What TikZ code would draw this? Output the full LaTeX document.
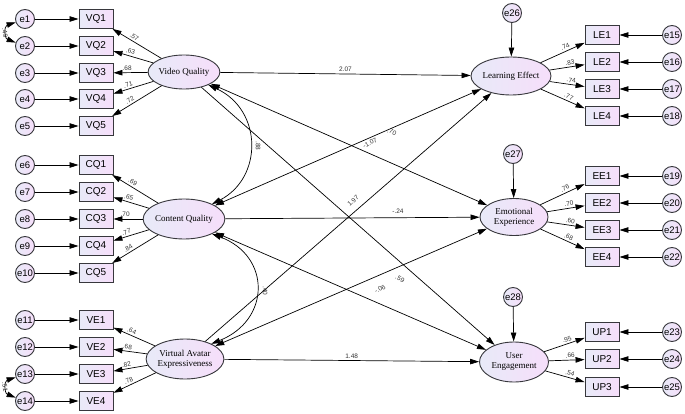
\documentclass[tikz,border=0pt]{standalone}
\usepackage{fontspec}
\setmainfont{Liberation Serif}
\newfontfamily\sansf{Liberation Sans}
\usetikzlibrary{shapes.geometric,arrows.meta}
\definecolor{fillL}{RGB}{232,234,248}
\definecolor{fillR}{RGB}{246,222,250}
\definecolor{edge}{RGB}{55,55,60}
\begin{document}
\begin{tikzpicture}[x=1pt,y=-1pt,
  obs/.style={draw=edge, line width=0.9pt, rectangle, minimum width=34pt, minimum height=19pt, inner sep=0pt, left color=fillL, right color=fillR, font=\sansf\fontsize{10}{10}\selectfont},
  err/.style={draw=edge, line width=0.9pt, circle, minimum size=19pt, inner sep=0pt, left color=fillL, right color=fillR, font=\sansf\fontsize{9.5}{9.5}\selectfont},
  lat/.style={draw=edge, line width=0.9pt, ellipse, inner sep=0pt, left color=fillL, right color=fillR, font=\fontsize{9}{10}\selectfont, align=center},
  arr/.style={-{Triangle[length=9pt,width=5.5pt]}, line width=0.7pt, black},
  dbl/.style={{Triangle[length=9pt,width=5.5pt]}-{Triangle[length=9pt,width=5.5pt]}, line width=0.7pt, black},
  lab/.style={font=\sansf\fontsize{6.5}{6.5}\selectfont, inner sep=0.3pt, text=black!80}
]
\useasboundingbox (0,0) rectangle (685,414);
\fill[white] (0,0) rectangle (685,414);

% latent variables
\node[lat, minimum width=69pt, minimum height=34pt] (VQ) at (184,72) {Video Quality};
\node[lat, minimum width=69pt, minimum height=40pt] (CQ) at (184,219) {Content Quality};
\node[lat, minimum width=71pt, minimum height=40pt] (VAE) at (185,359) {Virtual Avatar\\Expressiveness};
\node[lat, minimum width=67pt, minimum height=38pt] (LE) at (511,76) {Learning Effect};
\node[lat, minimum width=68pt, minimum height=37pt] (EE) at (514,217) {Emotional\\Experience};
\node[lat, minimum width=69pt, minimum height=40pt] (UE) at (514,362) {User\\Engagement};

% left indicators
\foreach \n/\y/\e in {VQ1/19/e1,VQ2/46/e2,VQ3/73/e3,VQ4/99/e4,VQ5/126/e5,
                     CQ1/165/e6,CQ2/192/e7,CQ3/219/e8,CQ4/246/e9,CQ5/273/e10,
                     VE1/320/e11,VE2/347/e12,VE3/374/e13,VE4/401/e14}{
  \node[obs] (\n) at (96,\y) {\n};
  \node[err] (\e) at (25,\y) {\e};
  \draw[arr] (\e) -- (\n);
}
% right indicators
\foreach \n/\y/\e in {LE1/35/e15,LE2/62/e16,LE3/89/e17,LE4/116/e18,
                     EE1/176/e19,EE2/203/e20,EE3/230/e21,EE4/257/e22,
                     UP1/332/e23,UP2/359/e24,UP3/387/e25}{
  \node[obs] (\n) at (602,\y) {\n};
  \node[err] (\e) at (672,\y) {\e};
  \draw[arr] (\e) -- (\n);
}
% disturbances
\node[err] (e26) at (512,13) {e26};
\node[err] (e27) at (513,154) {e27};
\node[err] (e28) at (513,297) {e28};
\draw[arr] (e26) -- (LE);
\draw[arr] (e27) -- (EE);
\draw[arr] (e28) -- (UE);

% loadings
\foreach \l/\n/\v in {VQ/VQ1/.57,VQ/VQ2/.63,VQ/VQ3/.68,VQ/VQ4/.71,VQ/VQ5/.72,
                     CQ/CQ1/.69,CQ/CQ2/.65,CQ/CQ3/.70,CQ/CQ4/.77,CQ/CQ5/.84,
                     VAE/VE1/.64,VAE/VE2/.68,VAE/VE3/.82,VAE/VE4/.78,
                     LE/LE1/.74,LE/LE2/.83,LE/LE3/.74,LE/LE4/.77,
                     EE/EE1/.76,EE/EE2/.70,EE/EE3/.60,EE/EE4/.68,
                     UE/UP1/.95,UE/UP2/.66,UE/UP3/.54}{
  \draw[arr] (\l) -- (\n) node[lab, pos=0.6, sloped, above=1.5pt] (L\n) {\v};
}

% error covariances
\draw[dbl] (e1.200) .. controls (4,26) and (4,38) .. (e2.160);
\node[lab, rotate=-80] (c12) at (5,33) {.49};
\draw[dbl] (e13.200) .. controls (4,381) and (4,393) .. (e14.160);
\node[lab, rotate=-80] (c1314) at (5,387) {.51};

% latent covariances
\draw[dbl] (VQ.-28) .. controls (263,110) and (263,178) .. (CQ.28);
\node[lab, rotate=-90] (cVQCQ) at (258,146) {.88};
\draw[dbl] (CQ.-28) .. controls (271,256) and (271,320) .. (VAE.30);
\node[lab, rotate=-90] (cCQVAE) at (265,291) {.40};

% structural paths
\draw[arr] (VQ) -- (LE) node[lab, midway, above=1.5pt] (p1) {2.07};
\draw[dbl] (VQ) -- (EE);
\draw[arr] (VQ) -- (UE);
\draw[dbl] (CQ) -- (LE);
\draw[arr] (CQ) -- (EE);
\draw[dbl] (CQ) -- (UE);
\draw[arr] (VAE) -- (LE);
\draw[dbl] (VAE) -- (EE);
\draw[arr] (VAE) -- (UE) node[lab, midway, above=1.5pt] (p9) {1.48};

% path labels near the crossings
\node[lab, rotate=-25] (p2) at (392,132) {.70};
\node[lab, rotate=27] (p3) at (370,143) {-1.07};
\node[lab, rotate=42] (p4) at (353,201) {1.97};
\node[lab] (p5) at (398,211) {-.24};
\node[lab, rotate=-28] (p6) at (400,279) {.59};
\node[lab, rotate=28] (p7) at (380,289) {-.06};
\end{tikzpicture}
\end{document}
